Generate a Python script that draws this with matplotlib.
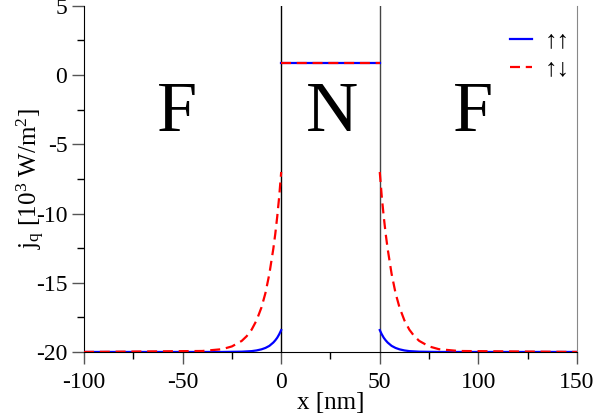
import matplotlib
matplotlib.use("Agg")
import matplotlib.pyplot as plt
from matplotlib import font_manager
from matplotlib.ticker import MultipleLocator
from matplotlib.lines import Line2D

_names = {f.name for f in font_manager.fontManager.ttflist}
SERIF = next((n for n in ['Liberation Serif', 'Times New Roman', 'Nimbus Roman',
                          'Nimbus Roman No9 L', 'FreeSerif', 'STIXGeneral']
              if n in _names), 'DejaVu Serif')

plt.rcParams['font.family'] = [SERIF, 'DejaVu Serif']
plt.rcParams['mathtext.fontset'] = 'custom'
plt.rcParams['mathtext.rm'] = SERIF
plt.rcParams['mathtext.it'] = SERIF + ':italic'
plt.rcParams['axes.unicode_minus'] = False

# Left ferromagnet (x <= 0)
x_left = [-100, -40, -30, -25, -20, -17.5, -15, -12.5, -10, -8, -6, -4, -3, -2, -1, 0]
red_left = [-20, -19.93, -19.8, -19.6, -19.2, -18.86, -18.39, -17.72, -16.78,
            -15.75, -14.36, -12.55, -11.47, -10.21, -8.76, -7.0]
blue_left = [-20, -20, -20, -19.99, -19.98, -19.96, -19.94, -19.89, -19.81,
             -19.71, -19.56, -19.32, -19.16, -18.97, -18.72, -18.42]

# Normal metal (0 <= x <= 50)
x_mid = [0, 50]
red_mid = [0.85, 0.85]
blue_mid = [0.85, 0.85]

# Right ferromagnet (x >= 50)
x_right = [50, 51, 52, 53, 54, 56, 58, 60, 62.5, 65, 67.5, 70, 75, 80, 90, 150]
red_right = [-7.0, -8.76, -10.21, -11.47, -12.55, -14.36, -15.75, -16.78,
             -17.72, -18.39, -18.86, -19.2, -19.6, -19.8, -19.93, -20]
blue_right = [-18.42, -18.72, -18.97, -19.16, -19.32, -19.56, -19.71, -19.81,
              -19.89, -19.94, -19.96, -19.98, -19.99, -20, -20, -20]

region_labels = ['F', 'N', 'F']
region_x = [-53, 26, 97.5]
legend_labels = ['↑↑', '↑↓']

fig = plt.figure(figsize=(5.96, 4.2), dpi=100)
ax = fig.add_axes([0.141, 0.162, 0.827, 0.824])

blue = '#0000ff'
red = '#ff0000'
lw = 1.6
dash = (4.5, 2.6)

for xs, ys in [(x_left, blue_left), (x_mid, blue_mid), (x_right, blue_right)]:
    ax.plot(xs, ys, color=blue, lw=lw, zorder=3)
for xs, ys in [(x_left, red_left), (x_mid, red_mid), (x_right, red_right)]:
    ax.plot(xs, ys, color=red, lw=lw, dashes=dash, zorder=4)

ax.axvline(0, color='black', lw=1.0, zorder=2)
ax.axvline(50, color='#444444', lw=1.0, zorder=2)

ax.set_xlim(-100, 150)
ax.set_ylim(-20, 5)
ax.xaxis.set_major_locator(MultipleLocator(50))
ax.xaxis.set_minor_locator(MultipleLocator(25))
ax.yaxis.set_major_locator(MultipleLocator(5))
ax.yaxis.set_minor_locator(MultipleLocator(2.5))
ax.tick_params(which='major', direction='out', length=8.5, width=1.0,
               labelsize=17, color='#555555')
ax.tick_params(axis='x', which='major', pad=6)
ax.tick_params(axis='y', which='major', pad=3.5)
ax.tick_params(which='minor', direction='out', length=5, width=1.0)
ax.spines['top'].set_visible(False)
ax.spines['right'].set_color('#888888')

ax.set_xlabel('x [nm]', fontsize=18, labelpad=-1)
ax.set_ylabel(r'j$_\mathregular{q}$ [10$^\mathregular{3}$ W/m$^\mathregular{2}$]',
              fontsize=18, labelpad=-8)

for lab, xp in zip(region_labels, region_x):
    ax.text(xp, -4.05, lab, fontsize=52, ha='center', va='baseline')

handles = [Line2D([], [], color=blue, lw=lw),
           Line2D([], [], color=red, lw=lw, dashes=dash)]
ax.legend(handles, legend_labels, loc='upper right', bbox_to_anchor=(0.985, 0.93),
          frameon=False, fontsize=18, handlelength=0.9, handletextpad=0.5,
          labelspacing=0.22, borderpad=0, borderaxespad=0)

fig.savefig('out.png', dpi=100)
